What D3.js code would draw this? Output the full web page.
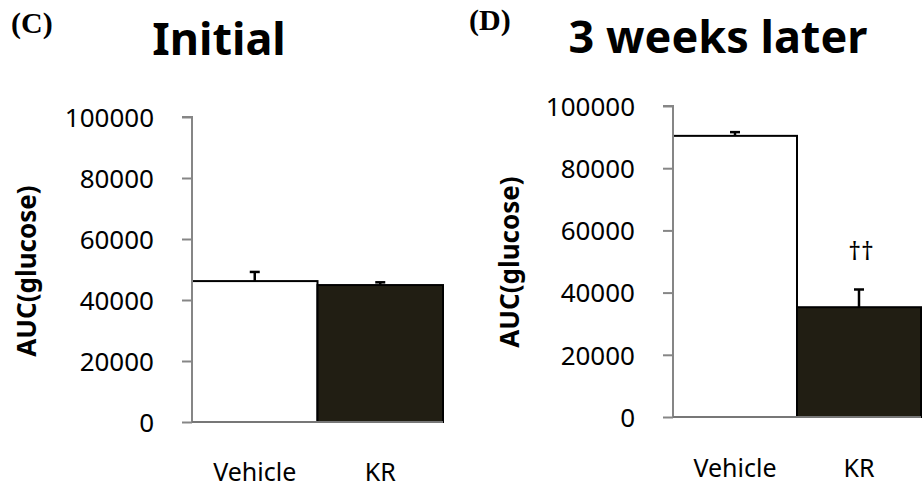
<!DOCTYPE html>
<html>
<head>
<meta charset="utf-8">
<script src="https://cdn.jsdelivr.net/npm/d3@7"></script>
<style>
  body { margin: 0; background: #fff; }
  svg { display: block; }
  text { font-family: "Noto Sans", "DejaVu Sans", sans-serif; fill: #000; }
</style>
</head>
<body>
<div id="chart"></div>
<script>
// values
var categories = ['Vehicle', 'KR'];
var initialMeans = [46200, 44900];
var initialErr = [3000, 900];
var laterMeans = [90400, 35300];
var laterErr = [1200, 5700];
var laterMarks = ['', '\u2020\u2020'];
var yTicks = [0, 20000, 40000, 60000, 80000, 100000];
var barColors = ['#ffffff', '#211e13'];

var width = 922, height = 487;

var svg = d3.select('#chart').append('svg')
  .attr('width', width)
  .attr('height', height);

function drawPanel(opts) {
  var g = svg.append('g');

  var x = d3.scaleBand()
    .domain(categories)
    .range([opts.left, opts.right])
    .padding(0);

  var y = d3.scaleLinear()
    .domain([0, 100000])
    .range([opts.bottom, opts.top]);

  // bars
  g.selectAll('rect.bar')
    .data(opts.means)
    .enter()
    .append('rect')
    .attr('class', 'bar')
    .attr('x', function(d, i) { return x(categories[i]); })
    .attr('y', function(d) { return y(d); })
    .attr('width', x.bandwidth())
    .attr('height', function(d) { return y(0) - y(d); })
    .style('fill', function(d, i) { return barColors[i]; })
    .style('stroke', '#000')
    .style('stroke-width', 2);

  // error bars (upper only)
  opts.means.forEach(function(m, i) {
    var cx = x(categories[i]) + x.bandwidth() / 2;
    var top = y(m + opts.err[i]);
    g.append('line')
      .attr('x1', cx).attr('x2', cx)
      .attr('y1', y(m)).attr('y2', top)
      .style('stroke', '#000').style('stroke-width', 2.5);
    g.append('line')
      .attr('x1', cx - 5).attr('x2', cx + 5)
      .attr('y1', top).attr('y2', top)
      .style('stroke', '#000').style('stroke-width', 2.5);
    if (opts.marks && opts.marks[i]) {
      g.append('text')
        .attr('x', cx + 2)
        .attr('y', top - 29)
        .attr('text-anchor', 'middle')
        .style('font-size', '25px')
        .text(opts.marks[i]);
    }
  });

  // y axis
  var yAxis = d3.axisLeft(y)
    .tickValues(yTicks)
    .tickSize(10)
    .tickPadding(28)
    .tickFormat(d3.format('d'));

  var ax = g.append('g')
    .attr('transform', 'translate(' + opts.left + ',0)')
    .call(yAxis);
  ax.select('.domain')
    .attr('d', 'M-10,' + y(100000) + 'H0V' + y(0))
    .style('stroke', '#868686').style('stroke-width', 2);
  ax.selectAll('.tick line').style('stroke', '#868686').style('stroke-width', 2);
  ax.selectAll('.tick text')
    .attr('dy', '0.36em')
    .style('font-size', '26px')
    .style('font-family', '"Noto Sans", sans-serif')
    .attr('fill', '#000');

  // x baseline
  g.append('line')
    .attr('x1', opts.left).attr('x2', opts.right)
    .attr('y1', y(0)).attr('y2', y(0))
    .style('stroke', '#777').style('stroke-width', 2);

  // category labels
  g.selectAll('text.cat')
    .data(categories)
    .enter()
    .append('text')
    .attr('class', 'cat')
    .attr('x', function(d) { return x(d) + x.bandwidth() / 2; })
    .attr('y', opts.catY)
    .attr('text-anchor', 'middle')
    .style('font-size', '25px')
    .text(function(d) { return d; });

  // y title
  g.append('text')
    .attr('transform', 'translate(' + opts.ytX + ',' + opts.ytY + ') rotate(-90)')
    .attr('text-anchor', 'middle')
    .style('font-size', '26px')
    .style('font-weight', 'bold')
    .text('AUC(glucose)');

  // title
  g.append('text')
    .attr('x', opts.titleX)
    .attr('y', opts.titleY)
    .attr('text-anchor', 'middle')
    .style('font-size', '45px')
    .style('font-weight', 'bold')
    .text(opts.title);

  // panel letter
  g.append('text')
    .attr('x', opts.letterX)
    .attr('y', opts.letterY)
    .style('font-family', '"Liberation Serif", "Times New Roman", serif')
    .style('font-size', '30px')
    .style('font-weight', 'bold')
    .text(opts.letter);
}

drawPanel({
  means: initialMeans, err: initialErr,
  left: 192, right: 443, top: 117, bottom: 422,
  catY: 481, ytX: 36, ytY: 271,
  title: 'Initial', titleX: 219, titleY: 55,
  letter: '(C)', letterX: 11, letterY: 33
});

drawPanel({
  means: laterMeans, err: laterErr, marks: laterMarks,
  left: 673, right: 921, top: 106, bottom: 417,
  catY: 477, ytX: 519, ytY: 262,
  title: '3 weeks later', titleX: 718, titleY: 53,
  letter: '(D)', letterX: 469, letterY: 30
});
</script>
</body>
</html>
